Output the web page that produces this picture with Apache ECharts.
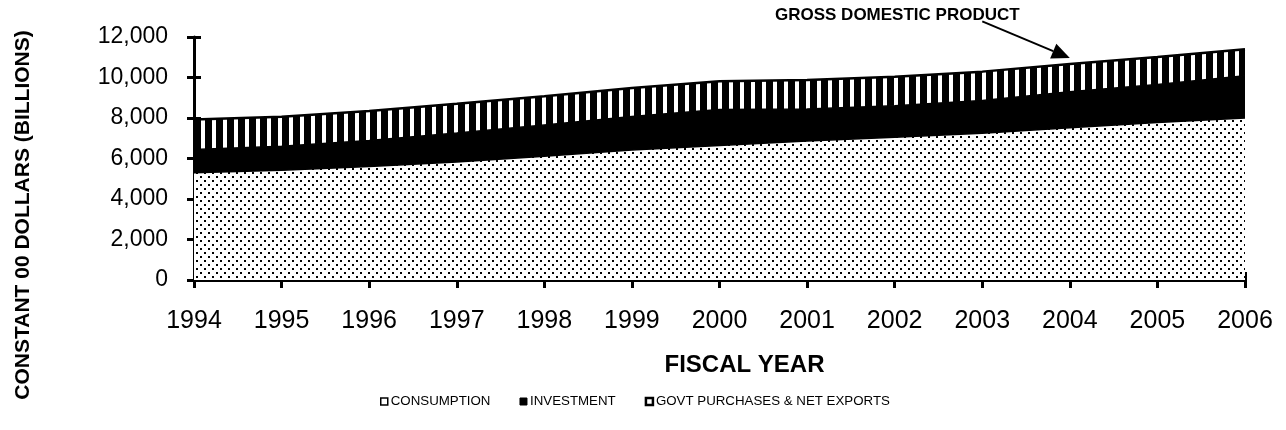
<!DOCTYPE html>
<html>
<head>
<meta charset="utf-8">
<script src="https://cdn.jsdelivr.net/npm/echarts@6/dist/echarts.min.js"></script>
<style>
  html, body { margin: 0; padding: 0; background: #fff; }
</style>
</head>
<body>
<div id="main" style="width:1286px; height:430px;"></div>
<script>
// years on the x axis
var years = ['1994', '1995', '1996', '1997', '1998', '1999', '2000', '2001', '2002', '2003', '2004', '2005', '2006'];
// billions of constant 2000 dollars (stacked components)
var consumption = [5300, 5420, 5610, 5830, 6110, 6420, 6640, 6860, 7050, 7250, 7520, 7780, 8000];
var investment = [1140, 1190, 1280, 1430, 1550, 1650, 1780, 1580, 1560, 1610, 1780, 1880, 2090];
var govtNetExports = [1480, 1450, 1450, 1440, 1410, 1410, 1400, 1440, 1430, 1430, 1370, 1350, 1310];

var FONT = 'Liberation Sans, Arial, sans-serif';

// fill patterns like the old excel chart
function dotPattern() {
  var c = document.createElement('canvas');
  c.width = 8; c.height = 8;
  var ctx = c.getContext('2d');
  ctx.fillStyle = '#fff';
  ctx.fillRect(0, 0, 8, 8);
  ctx.fillStyle = '#000';
  ctx.fillRect(0, 0, 2, 2);
  ctx.fillRect(4, 4, 2, 2);
  return c;
}
function stripePattern() {
  var c = document.createElement('canvas');
  c.width = 11; c.height = 11;
  var ctx = c.getContext('2d');
  ctx.fillStyle = '#000';
  ctx.fillRect(0, 0, 11, 11);
  ctx.fillStyle = '#fff';
  ctx.fillRect(3, 0, 4, 11);
  return c;
}

var myChart = echarts.init(document.getElementById('main'));

var tickStyle = { color: '#000', width: 3 };

var option = {
  animation: false,
  grid: { left: 194, right: 41, top: 37, bottom: 150, containLabel: false },
  legend: {
    left: 375,
    top: 390,
    icon: 'rect',
    itemWidth: 7,
    itemHeight: 7,
    itemGap: 29,
    textStyle: { fontFamily: FONT, fontSize: 13.3, color: '#000', padding: [0, 0, 0, -2] },
    data: [
      { name: 'CONSUMPTION', itemStyle: { color: '#fff', borderColor: '#000', borderWidth: 1.5 } },
      { name: 'INVESTMENT', itemStyle: { color: '#000', borderColor: '#000', borderWidth: 1 } },
      { name: 'GOVT PURCHASES & NET EXPORTS', itemStyle: { color: '#fff', borderColor: '#000', borderWidth: 2.5 } }
    ]
  },
  xAxis: [
    {
      type: 'category',
      data: years,
      boundaryGap: false,
      name: 'FISCAL YEAR',
      nameLocation: 'middle',
      nameGap: 73,
      nameTextStyle: { fontFamily: FONT, fontSize: 24, fontWeight: 'bold', color: '#000', padding: [0, 0, 0, 50] },
      axisLine: { lineStyle: { color: '#000', width: 3 } },
      axisTick: { show: true, length: 8, lineStyle: tickStyle },
      axisLabel: { fontFamily: FONT, fontSize: 25, color: '#000', margin: 29 },
      splitLine: { show: false }
    },
    {
      // inner half of the crossing ticks
      type: 'category',
      data: years,
      boundaryGap: false,
      position: 'bottom',
      axisLine: { show: false },
      axisTick: { show: true, inside: true, length: 8, lineStyle: tickStyle },
      axisLabel: { show: false }
    }
  ],
  yAxis: [
    {
      type: 'value',
      min: 0,
      max: 12000,
      interval: 2000,
      axisLine: { show: true, lineStyle: { color: '#000', width: 3 } },
      axisTick: { show: true, length: 7, lineStyle: tickStyle },
      axisLabel: {
        fontFamily: FONT, fontSize: 23, color: '#000', margin: 26,
        formatter: function (v) { return v.toLocaleString('en-US'); }
      },
      splitLine: { show: false }
    },
    {
      type: 'value',
      min: 0,
      max: 12000,
      interval: 2000,
      position: 'left',
      axisLine: { show: false },
      axisTick: { show: true, inside: true, length: 7, lineStyle: tickStyle },
      axisLabel: { show: false },
      splitLine: { show: false }
    }
  ],
  series: [
    {
      name: 'CONSUMPTION',
      type: 'line',
      stack: 'gdp',
      data: consumption,
      symbol: 'none',
      lineStyle: { color: '#000', width: 1.5 },
      areaStyle: { color: { image: dotPattern(), repeat: 'repeat' }, opacity: 1 }
    },
    {
      name: 'INVESTMENT',
      type: 'line',
      stack: 'gdp',
      data: investment,
      symbol: 'none',
      lineStyle: { color: '#000', width: 1.5 },
      areaStyle: { color: '#000', opacity: 1 }
    },
    {
      name: 'GOVT PURCHASES & NET EXPORTS',
      type: 'line',
      stack: 'gdp',
      data: govtNetExports,
      symbol: 'none',
      lineStyle: { color: '#000', width: 2.5 },
      areaStyle: { color: { image: stripePattern(), repeat: 'repeat' }, opacity: 1 }
    }
  ]
};

myChart.setOption(option);

// annotation: label + arrow pointing at the top of the stack
var from = myChart.convertToPixel({ xAxisIndex: 0, yAxisIndex: 0 }, [9.11, 12770]);
var to = myChart.convertToPixel({ xAxisIndex: 0, yAxisIndex: 0 }, [10.21, 10960]);
var ang = Math.atan2(to[1] - from[1], to[0] - from[0]);
var headLen = 18, headW = 8;
var bx = to[0] - headLen * Math.cos(ang), by = to[1] - headLen * Math.sin(ang);
var px = -Math.sin(ang) * headW, py = Math.cos(ang) * headW;

myChart.setOption({
  graphic: [
    {
      // y axis title, placed like the original (not centred on the plot)
      type: 'text',
      x: 23,
      y: 215,
      rotation: Math.PI / 2,
      style: {
        text: 'CONSTANT 00 DOLLARS (BILLIONS)',
        font: 'bold 21px ' + FONT,
        fill: '#000',
        align: 'center',
        verticalAlign: 'middle'
      }
    },
    {
      type: 'text',
      left: 775,
      top: 7,
      style: { text: 'GROSS DOMESTIC PRODUCT', font: 'bold 17px ' + FONT, fill: '#000' }
    },
    {
      type: 'line',
      shape: { x1: from[0], y1: from[1], x2: bx, y2: by },
      style: { stroke: '#000', lineWidth: 2 }
    },
    {
      type: 'polygon',
      shape: { points: [[to[0], to[1]], [bx + px, by + py], [bx - px, by - py]] },
      style: { fill: '#000' }
    }
  ]
});
</script>
</body>
</html>
